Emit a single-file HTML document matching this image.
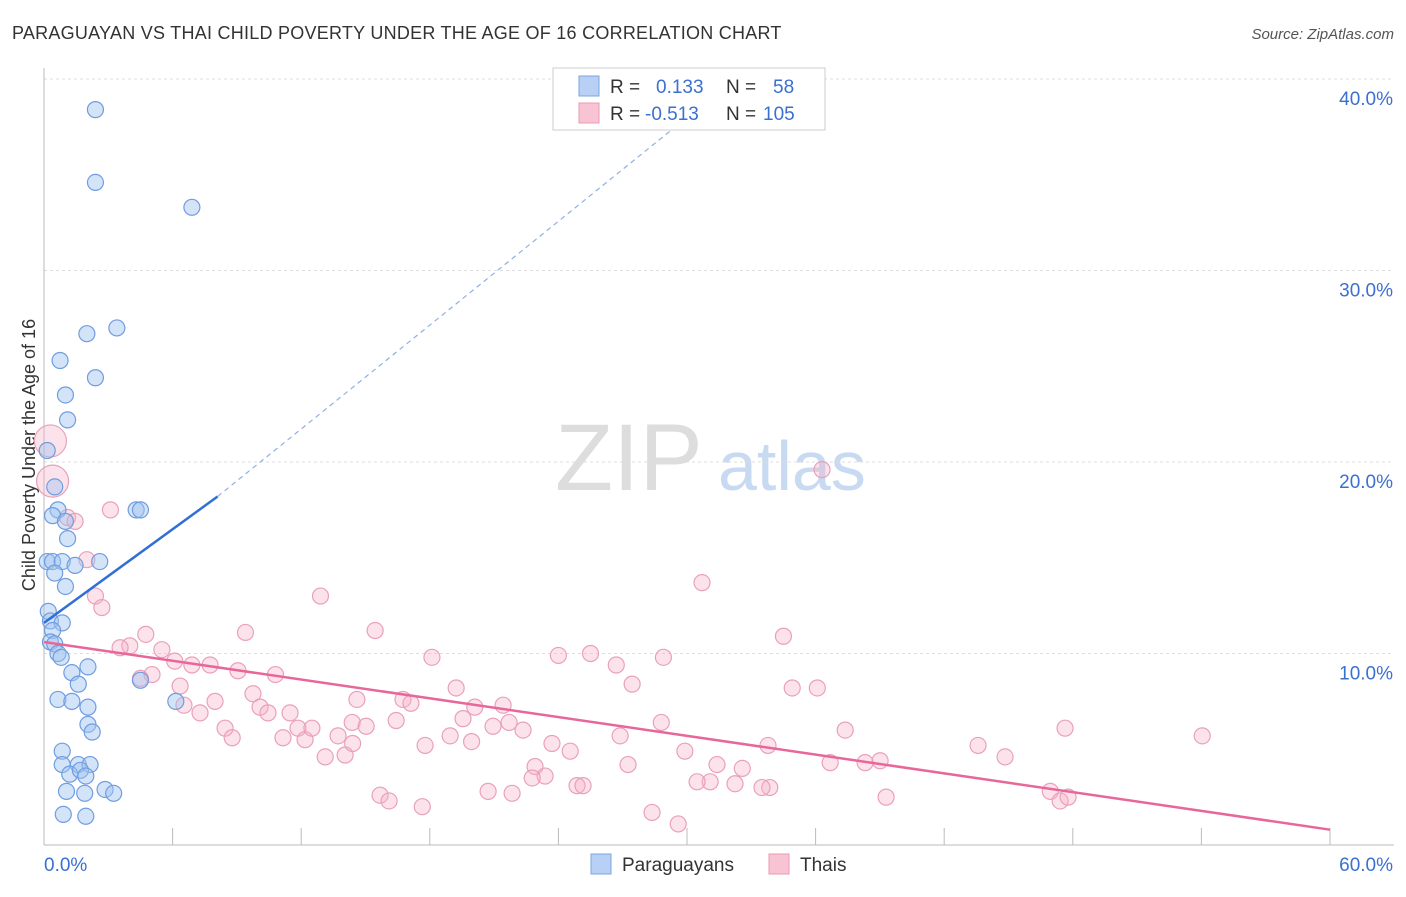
<!DOCTYPE html>
<html><head><meta charset="utf-8"><style>
body{margin:0;background:#fff;font-family:"Liberation Sans",sans-serif;}
svg text{font-family:"Liberation Sans",sans-serif;}
</style></head><body>
<svg id="c" width="1406" height="892">
<text x="12" y="39" font-size="18" fill="#333" letter-spacing="0.25">PARAGUAYAN VS THAI CHILD POVERTY UNDER THE AGE OF 16 CORRELATION CHART</text>
<text x="1394" y="39" font-size="15" fill="#555" font-style="italic" text-anchor="end">Source: ZipAtlas.com</text>
<text x="35" y="455" font-size="18" fill="#333" text-anchor="middle" transform="rotate(-90 35 455)">Child Poverty Under the Age of 16</text>
<g><text x="555" y="490" font-size="95" fill="#ddd" font-family="Liberation Serif">ZIP</text><text x="718" y="490" font-size="70" fill="#c8daf2">atlas</text></g>
<g id="grid"></g><g id="pts"></g><g id="lines"></g>
<g>
<rect x="553" y="68" width="272" height="62" fill="#fff" stroke="#ccc"/>
<rect x="579" y="76" width="20" height="20" fill="#b8d0f5" stroke="#7aa6e0"/>
<rect x="579" y="103" width="20" height="20" fill="#f8c4d4" stroke="#e89ab5"/>
<text x="610" y="93" font-size="19" fill="#333">R =</text><text x="656" y="93" font-size="19" fill="#3a70d0">0.133</text>
<text x="726" y="93" font-size="19" fill="#333">N =</text><text x="773" y="93" font-size="19" fill="#3a70d0">58</text>
<text x="610" y="120" font-size="19" fill="#333">R =</text><text x="645" y="120" font-size="19" fill="#3a70d0">-0.513</text>
<text x="726" y="120" font-size="19" fill="#333">N =</text><text x="763" y="120" font-size="19" fill="#3a70d0">105</text>
</g>
<g>
<rect x="591" y="854" width="20" height="20" fill="#b8d0f5" stroke="#7aa6e0"/><text x="622" y="871" font-size="19" fill="#333">Paraguayans</text>
<rect x="769" y="854" width="20" height="20" fill="#f8c4d4" stroke="#e89ab5"/><text x="800" y="871" font-size="19" fill="#333">Thais</text>
</g>
</svg>
<script>
const yTicks=[10,20,30,40];
const yTickLabels=["10.0%","20.0%","30.0%","40.0%"];
const blueX=[2.4,2.4,6.9,3.4,2.0,0.75,1.0,2.4,1.1,0.15,0.5,0.65,0.4,1.0,1.1,0.15,0.4,0.85,2.6,1.45,0.5,1.0,4.3,0.2,0.3,0.85,0.4,0.3,0.5,0.65,0.8,2.05,1.3,1.6,4.5,0.65,1.3,2.05,6.15,2.05,2.25,0.85,0.85,1.6,2.15,1.2,1.7,1.95,1.05,1.9,2.85,3.25,0.9,1.95,4.5];
const blueY=[38.4,34.6,33.3,27.0,26.7,25.3,23.5,24.4,22.2,20.6,18.7,17.5,17.2,16.9,16.0,14.8,14.8,14.8,14.8,14.6,14.2,13.5,17.5,12.2,11.7,11.6,11.2,10.6,10.5,10.0,9.8,9.3,9.0,8.4,8.6,7.6,7.5,7.2,7.5,6.3,5.9,4.9,4.2,4.2,4.2,3.7,3.9,3.6,2.8,2.7,2.9,2.7,1.6,1.5,17.5];
const pinkX=[0.3,0.4,1.1,1.45,3.1,2.0,2.4,2.7,4.75,4.0,3.55,5.5,6.1,6.9,7.75,9.05,10.8,9.4,12.9,15.45,18.1,24.0,25.5,26.7,28.9,30.7,34.5,36.3,4.5,5.04,6.35,7.98,6.53,7.28,9.75,10.08,10.45,11.48,8.45,8.78,11.15,11.85,12.18,12.5,13.72,13.12,14.05,14.38,15.03,14.6,16.43,16.75,17.12,19.23,19.55,20.1,21.42,20.95,21.7,14.4,17.78,18.95,19.95,23.7,24.55,26.88,27.44,28.8,29.9,31.08,32.58,33.78,31.4,33.86,36.08,34.91,37.38,38.31,39.01,22.35,22.91,23.38,22.78,24.87,25.15,20.72,21.84,15.68,16.1,17.65,27.25,30.47,32.24,33.5,28.37,29.59,39.29,43.58,44.84,47.64,54.04,46.95,47.41,47.78,36.68];
const pinkY=[21.1,19.0,17.1,16.9,17.5,14.9,13.0,12.4,11.0,10.4,10.3,10.2,9.6,9.4,9.4,9.1,8.9,11.1,13.0,11.2,9.8,9.9,10.0,9.4,9.8,13.7,10.9,19.6,8.7,8.9,8.3,7.5,7.3,6.9,7.9,7.2,6.9,6.9,6.1,5.6,5.6,6.1,5.5,6.1,5.7,4.6,4.7,6.4,6.2,7.6,6.5,7.6,7.4,8.2,6.6,7.2,7.3,6.2,6.4,5.3,5.2,5.7,5.4,5.3,4.9,5.7,8.4,6.4,4.9,3.3,4.0,5.2,4.2,3.0,8.2,8.2,6.0,4.3,4.4,6.0,4.1,3.6,3.5,3.1,3.1,2.8,2.7,2.6,2.3,2.0,4.2,3.3,3.2,3.0,1.7,1.1,2.5,5.2,4.6,6.1,5.7,2.8,2.3,2.5,4.3];
const blueTrend=[0.133,[0,11.6],[8.1,18.2],[32,39.8]];
const pinkTrend=[[0,10.6],[60,0.8]];
const X0=44,X1=1330,Y0=845,YS=19.15;
const sx=v=>X0+(X1-X0)*v/60, sy=v=>Y0-v*YS;
const NS="http://www.w3.org/2000/svg";
function mk(t,a,p){const e=document.createElementNS(NS,t);for(const k in a)e.setAttribute(k,a[k]);p.appendChild(e);return e;}
const g=document.getElementById('grid');
yTicks.forEach((v,i)=>{
 const l=mk('line',{x1:X0,x2:1394,y1:sy(v),y2:sy(v),stroke:'#ddd','stroke-dasharray':'3,3'},g);
 
 
 const t=mk('text',{x:1393,y:sy(v)+26,'font-size':19,fill:'#3a70d0','text-anchor':'end'},g);t.textContent=yTickLabels[i];
 
 
});
mk('line',{x1:X0,x2:X0,y1:68,y2:Y0,stroke:'#bbb'},g);
mk('line',{x1:X0,x2:1394,y1:Y0,y2:Y0,stroke:'#bbb'},g);
for(let i=0;i<=10;i++){const x=sx(i*6);const tk=mk('line',{x1:x,x2:x,y1:828,y2:Y0,stroke:'#bbb'},g);
 
 }
const xl=mk('text',{x:44,y:871,'font-size':19,fill:'#3a70d0'},g);xl.textContent='0.0%';


const xr=mk('text',{x:1393,y:871,'font-size':19,fill:'#3a70d0','text-anchor':'end'},g);xr.textContent='60.0%';


const P=document.getElementById('pts');
pinkX.forEach((v,i)=>{const big=i<2;const c=mk('circle',{cx:sx(v),cy:sy(pinkY[i]),r:big?16:8,fill:'rgba(245,175,198,0.35)',stroke:'#eaa0ba','stroke-width':1.2},P);
 
 });
blueX.forEach((v,i)=>{const c=mk('circle',{cx:sx(v),cy:sy(blueY[i]),r:8,fill:'rgba(160,195,240,0.45)',stroke:'#6f9de0','stroke-width':1.2},P);
 
 });
const L=document.getElementById('lines');
const b1=mk('line',{x1:sx(blueTrend[1][0]),y1:sy(blueTrend[1][1]),x2:sx(blueTrend[2][0]),y2:sy(blueTrend[2][1]),stroke:'#2f6fd6','stroke-width':2.5},L);


const b2=mk('line',{x1:sx(blueTrend[2][0]),y1:sy(blueTrend[2][1]),x2:sx(blueTrend[3][0]),y2:sy(blueTrend[3][1]),stroke:'#8fb0e0','stroke-width':1.2,'stroke-dasharray':'5,4'},L);


const p1=mk('line',{x1:sx(pinkTrend[0][0]),y1:sy(pinkTrend[0][1]),x2:sx(pinkTrend[1][0]),y2:sy(pinkTrend[1][1]),stroke:'#e8679a','stroke-width':2.5},L);


</script>
</body></html>
